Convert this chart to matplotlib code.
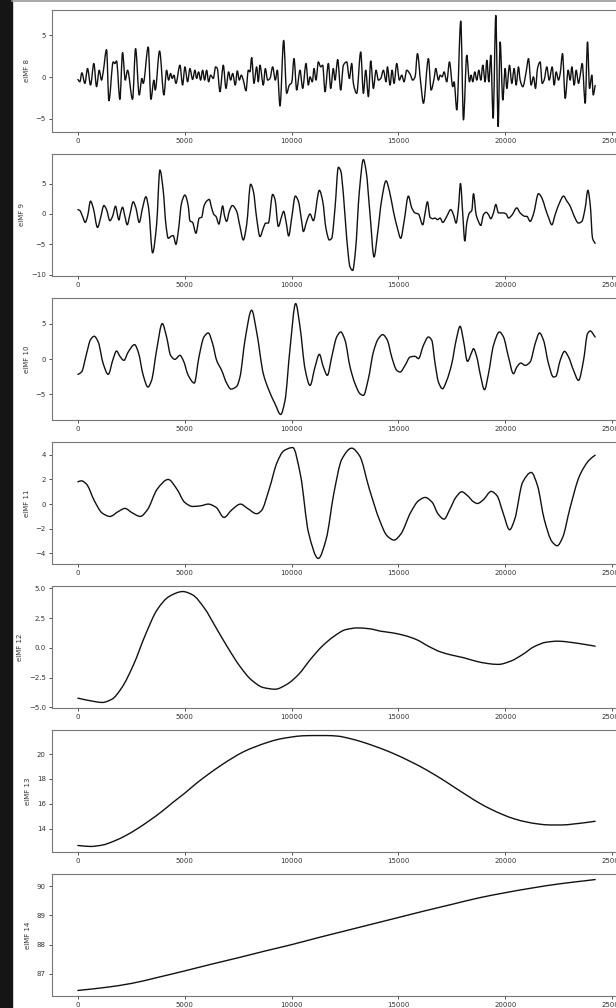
import numpy as np
import matplotlib
matplotlib.use("Agg")
import matplotlib.pyplot as plt
from matplotlib.patches import Rectangle, PathPatch
from matplotlib.lines import Line2D
from matplotlib.path import Path

# values, sample index -> value
imf8_x = [0, 94, 187, 328, 453, 593, 749, 874, 999, 1108, 1186, 1342, 1451, 1654, 1732, 1810, 1966,
          2091, 2216, 2325, 2559, 2700, 2871, 2996, 3059, 3293, 3418, 3558, 3620, 3823, 4026, 4151,
          4245, 4338, 4416, 4494, 4588, 4775, 4900, 5009, 5134, 5243, 5368, 5477, 5555, 5649, 5743,
          5836, 5930, 6024, 6117, 6211, 6336, 6445, 6523, 6648, 6804, 6929, 7053, 7147, 7241, 7366,
          7459, 7553, 7646, 7740, 7865, 7974, 8052, 8130, 8239, 8364, 8442, 8520, 8676, 8770, 8879,
          8988, 9113, 9238, 9332, 9457, 9628, 9769, 9894, 10003, 10112, 10237, 10393, 10518, 10674,
          10783, 10861, 10970, 11048, 11142, 11251, 11360, 11454, 11563, 11719, 11829, 11953, 12031,
          12156, 12297, 12422, 12578, 12702, 12812, 12890, 13046, 13233, 13358, 13467, 13592, 13701,
          13826, 13951, 14060, 14169, 14294, 14419, 14481, 14606, 14700, 14793, 14918, 15043, 15152,
          15261, 15386, 15542, 15667, 15777, 15886, 16042, 16167, 16401, 16526, 16666, 16744, 16869,
          16947, 17041, 17134, 17259, 17384, 17540, 17602, 17727, 17914, 18039, 18195, 18320, 18398,
          18476, 18570, 18663, 18757, 18851, 18945, 19054, 19132, 19225, 19319, 19428, 19553, 19662,
          19756, 19881, 19990, 20068, 20193, 20302, 20411, 20505, 20614, 20692, 20817, 20973, 21082,
          21207, 21316, 21410, 21503, 21628, 21722, 21815, 21940, 22050, 22190, 22284, 22378, 22487,
          22565, 22674, 22799, 22939, 23033, 23111, 23220, 23314, 23423, 23501, 23595, 23735, 23844,
          23938, 24047, 24110, 24200]
imf8_y = [-0.28, -0.56, 0.52, -0.75, 1.03, -0.95, 1.63, -1.15, 0.83, -0.36, 0.63, 3.29, -2.82, 1.83,
          1.63, 1.94, -2.66, 2.94, -0.36, 0.83, -2.66, 3.41, -2.14, -0.16, -0.75, 3.61, -2.66, -0.36,
          -1.55, 3.13, -2.14, 0.83, -0.36, 0.44, -0.16, 0.24, -0.75, 1.43, -0.95, 1.23, -0.56, 1.03,
          -0.28, 0.83, -0.16, 0.63, -0.36, 0.83, -0.36, 0.83, -0.56, 0.24, -0.16, 1.23, 1.03, -1.75,
          1.43, -1.35, 0.63, -0.36, 0.44, -0.95, 0.75, -0.36, 0.24, -0.36, -1.63, 0.83, 0.63, 2.34,
          -0.75, 1.23, -0.56, 1.43, -0.95, 1.03, -0.36, -0.16, 1.23, -0.36, 0.83, -3.45, 4.40, -1.94,
          -0.95, -0.67, 2.22, -1.55, 0.83, -1.35, 1.63, -0.95, 0.04, -0.56, 1.03, -0.36, 1.83, 1.23,
          1.43, -1.75, 1.63, -1.35, 1.03, -0.36, 2.10, -1.55, 1.43, 1.83, -0.16, 1.63, -0.75, -1.94,
          3.02, -1.94, 0.83, -2.34, 1.94, -1.35, 0.83, -0.36, -0.16, 0.83, -0.56, 1.23, -0.95, 0.83,
          -0.75, 1.63, -0.36, 0.24, -0.56, 0.83, 0.36, -0.36, 0.04, 2.82, -0.75, -3.13, 2.22, -1.55,
          -0.16, 1.03, -0.36, 0.24, 0.04, 0.63, -0.56, 1.83, -1.15, -0.56, -3.93, 6.71, -5.12, 2.62,
          -0.56, 0.24, -0.56, 0.63, -0.36, 0.83, -0.36, 1.43, -0.56, 2.02, -0.56, 2.62, -4.92, 7.38,
          -5.91, 4.21, -2.74, 1.03, -1.35, 1.43, -0.75, 1.03, -0.95, 1.23, -0.36, -1.15, 0.63, 2.22,
          -0.95, 0.04, -1.35, 1.03, 1.83, -0.75, -0.36, 1.23, -0.36, 1.23, -0.95, 0.63, -0.36, 0.44,
          2.82, -2.54, 0.83, -0.36, 1.23, -0.95, 0.83, -0.75, 0.24, 1.63, -3.13, 4.21, -1.35, 0.24,
          -2.14, -1.0]

imf9_x = [0, 94, 218, 343, 453, 593, 718, 921, 1061, 1217, 1342, 1498, 1623, 1763, 1857, 1919, 1997,
          2091, 2200, 2310, 2434, 2590, 2715, 2871, 3027, 3183, 3308, 3496, 3683, 3839, 3995, 4120,
          4229, 4385, 4463, 4588, 4697, 4853, 5009, 5165, 5243, 5368, 5524, 5680, 5789, 5899, 6023,
          6148, 6258, 6367, 6460, 6601, 6679, 6773, 6866, 6960, 7085, 7225, 7428, 7584, 7740, 7896,
          8083, 8208, 8364, 8520, 8676, 8786, 8910, 9113, 9223, 9379, 9535, 9628, 9738, 9862, 10003,
          10174, 10315, 10471, 10549, 10705, 10861, 11017, 11298, 11454, 11610, 11766, 11875, 12031,
          12187, 12297, 12422, 12578, 12734, 12858, 12983, 13171, 13358, 13483, 13670, 13857, 14013,
          14216, 14419, 14575, 14762, 14950, 15106, 15262, 15464, 15620, 15776, 15932, 16135, 16245,
          16354, 16479, 16604, 16713, 16822, 16947, 17072, 17259, 17446, 17571, 17696, 17805, 17899,
          18008, 18102, 18195, 18320, 18430, 18508, 18633, 18742, 18851, 18976, 19101, 19210, 19319,
          19444, 19553, 19678, 19912, 20037, 20146, 20302, 20536, 20692, 20926, 21004, 21160, 21316,
          21550, 21706, 21862, 22018, 22174, 22330, 22533, 22721, 22877, 23033, 23189, 23423, 23579,
          23735, 23860, 23969, 24079, 24200]
imf9_y = [0.72, 0.56, -0.39, -1.39, -0.39, 2.11, 1.0, -2.22, -0.67, 1.39, 0.72, -1.11, -0.39, 1.28,
          -0.22, -1.0, 0.17, 1.11, -0.39, -1.78, -0.11, 2.0, 1.0, -1.39, 1.0, 2.83, 1.0, -6.39, -1.78,
          7.22, 3.78, -1.78, -4.0, -3.61, -3.56, -5.0, -2.89, 1.83, 3.11, 1.28, -1.11, -1.39, -3.17,
          -0.67, -0.56, 1.28, 2.11, 2.39, 1.0, -0.11, -0.39, -1.67, -0.39, 1.33, -0.39, -1.22, 0.44,
          1.39, 0.44, -2.06, -4.28, -1.78, 4.89, 3.78, -0.67, -3.72, -2.33, -1.5, -1.5, 3.22, 2.39,
          -2.06, -0.39, 0.44, -1.22, -3.61, -0.67, 2.94, 2.11, -1.22, -2.89, -1.22, 0.0, -1.11, 3.89,
          2.11, -2.44, -4.28, -4.0, 1.0, 7.67, 7.11, 3.22, -4.0, -8.72, -9.28, -6.22, 3.78, 8.94, 7.11,
          -0.11, -7.06, -3.44, 2.39, 5.44, 3.78, 0.44, -2.33, -4.0, -1.22, 2.94, 1.0, 0.17, 0.0, -1.78,
          0.17, 2.0, -0.56, -0.78, -0.67, -0.94, -0.67, -1.39, -0.39, 0.72, -0.11, -1.5, 1.0, 5.0,
          -0.11, -4.44, -1.5, 0.17, 0.56, 3.33, -0.11, -1.22, -1.89, -0.11, 0.28, -0.11, -0.78, 0.17,
          1.56, 0.17, 0.17, 0.0, -0.67, -0.22, 1.0, 0.17, -0.39, -0.39, -1.22, 0.0, 3.33, 2.67, 1.0,
          -0.56, -1.78, -0.11, 1.83, 2.94, 2.11, 1.28, -0.11, -1.5, -1.22, 1.0, 3.89, 1.56, -4.0, -4.83]

imf10_x = [0, 172, 406, 593, 765, 952, 1186, 1420, 1654, 1810, 1966, 2153, 2356, 2653, 2825, 3059,
           3277, 3449, 3683, 3948, 4151, 4338, 4541, 4775, 4931, 5165, 5446, 5665, 5899, 6102, 6304,
           6492, 6726, 6960, 7163, 7428, 7584, 7818, 8130, 8364, 8676, 8910, 9223, 9488, 9691, 9925,
           10190, 10393, 10627, 10861, 11095, 11298, 11485, 11672, 11875, 12110, 12297, 12500, 12734,
           12968, 13202, 13358, 13592, 13826, 14060, 14263, 14481, 14684, 14918, 15074, 15308, 15542,
           15776, 15932, 16167, 16401, 16557, 16713, 16869, 17056, 17259, 17493, 17696, 17883, 18039,
           18227, 18430, 18508, 18664, 18820, 19023, 19210, 19444, 19725, 19912, 20146, 20380, 20536,
           20724, 20926, 21160, 21395, 21598, 21785, 22018, 22252, 22362, 22565, 22768, 22955, 23189,
           23423, 23657, 23844, 23969, 24200]
imf10_y = [-2.17, -1.84, 0.75, 2.74, 3.21, 2.41, -0.66, -2.17, 0.05, 1.13, 0.38, -0.19, 0.99, 2.03,
           0.99, -2.31, -3.96, -3.02, 1.23, 5.0, 3.11, 0.52, -0.05, 0.52, -0.19, -2.31, -3.4, 0.28,
           3.11, 3.68, 2.17, -0.19, -1.6, -3.4, -4.25, -3.87, -2.55, 2.64, 6.89, 3.82, -2.08, -4.2,
           -6.32, -7.83, -5.85, 1.46, 7.83, 4.53, -1.37, -3.73, -1.13, 0.66, -1.13, -2.31, 0.28, 3.11,
           3.82, 2.64, -1.13, -3.49, -4.91, -5.14, -2.78, 0.99, 2.88, 3.44, 2.64, 0.28, -1.6, -1.84,
           -0.9, 0.28, 0.38, 0.05, 1.93, 3.11, 2.64, -0.66, -3.25, -4.2, -3.02, -0.66, 2.64, 4.62, 2.64,
           -0.33, 0.99, 1.46, 0.28, -2.08, -4.34, -2.08, 1.93, 3.82, 3.11, 0.28, -2.08, -1.13, -0.57,
           -0.9, -0.42, 2.17, 3.68, 2.64, -0.66, -2.55, -2.45, -0.19, 1.08, 0.28, -1.6, -3.02, -0.19,
           3.58, 3.96, 3.11]

imf11_x = [0, 165, 404, 772, 1140, 1507, 1875, 2206, 2518, 2922, 3253, 3713, 4227, 4632, 4999, 5367,
           5735, 6102, 6470, 6837, 7205, 7609, 7940, 8363, 8583, 8951, 9319, 9631, 10054, 10421, 10789,
           11249, 11616, 11984, 12351, 12811, 13178, 13638, 14097, 14465, 14796, 15108, 15568, 15935,
           16248, 16579, 16854, 17130, 17406, 17681, 17957, 18233, 18509, 18692, 18968, 19336, 19611,
           19887, 20200, 20439, 20806, 21211, 21505, 21817, 22185, 22424, 22681, 23012, 23472, 23931,
           24200]
imf11_y = [1.81, 1.89, 1.62, 0.27, -0.73, -1.0, -0.62, -0.35, -0.68, -1.0, -0.46, 1.22, 2.0, 1.22,
           0.14, -0.19, -0.14, 0.0, -0.27, -1.08, -0.46, 0.0, -0.35, -0.78, -0.54, 1.22, 3.38, 4.32,
           4.59, 2.3, -2.3, -4.41, -2.84, 0.95, 3.65, 4.54, 3.92, 1.22, -1.22, -2.57, -2.92, -2.43,
           -0.68, 0.27, 0.54, 0.14, -0.81, -1.22, -0.41, 0.54, 1.0, 0.68, 0.19, 0.05, 0.35, 1.03, 0.68,
           -0.68, -2.08, -1.22, 1.76, 2.57, 1.49, -1.22, -3.05, -3.38, -2.7, -0.41, 2.3, 3.59, 3.97]

imf12_x = [0, 588, 1140, 1599, 2059, 2610, 3161, 3713, 4264, 4907, 5367, 5918, 6470, 7021, 7573, 8124,
           8675, 9227, 9778, 10330, 10881, 11432, 11984, 12535, 13087, 13638, 14189, 14741, 15292,
           15843, 16395, 16946, 17498, 18049, 18600, 19152, 19667, 20255, 20806, 21358, 21909, 22460,
           23012, 23563, 24200]
imf12_y = [-4.22, -4.44, -4.58, -4.3, -3.33, -1.39, 1.1, 3.2, 4.3, 4.72, 4.44, 3.33, 1.67, 0.0, -1.53,
           -2.7, -3.33, -3.47, -3.06, -2.22, -0.97, 0.14, 0.97, 1.53, 1.67, 1.6, 1.39, 1.25, 1.03, 0.69,
           0.14, -0.33, -0.61, -0.83, -1.11, -1.31, -1.39, -1.11, -0.56, 0.11, 0.47, 0.56, 0.47, 0.33,
           0.14]

imf13_x = [0, 588, 1140, 1691, 2243, 2794, 3345, 3897, 4448, 5000, 5551, 6102, 6654, 7205, 7757, 8308,
           8859, 9411, 9962, 10514, 11065, 11616, 12168, 12719, 13270, 13822, 14373, 14925, 15476,
           16027, 16579, 17130, 17681, 18233, 18784, 19336, 19887, 20439, 20990, 21541, 22093, 22644,
           23196, 23747, 24200]
imf13_y = [12.64, 12.56, 12.67, 12.99, 13.44, 14.0, 14.64, 15.33, 16.11, 16.85, 17.65, 18.37, 19.04,
           19.65, 20.19, 20.59, 20.93, 21.2, 21.36, 21.47, 21.49, 21.49, 21.44, 21.25, 20.99, 20.67,
           20.32, 19.92, 19.47, 18.99, 18.45, 17.87, 17.25, 16.64, 16.05, 15.55, 15.12, 14.77, 14.53,
           14.37, 14.29, 14.29, 14.37, 14.48, 14.59]

imf14_x = [0, 1250, 2500, 3750, 5000, 6250, 7500, 8750, 10000, 11250, 12500, 13750, 15000, 16250,
           17500, 18750, 20000, 21250, 22500, 23750, 24200]
imf14_y = [86.43, 86.53, 86.67, 86.88, 87.1, 87.33, 87.55, 87.78, 88.0, 88.24, 88.47, 88.7, 88.93,
           89.16, 89.38, 89.6, 89.78, 89.94, 90.08, 90.19, 90.23]

labels = ["eIMF 8", "eIMF 9", "eIMF 10", "eIMF 11", "eIMF 12", "eIMF 13", "eIMF 14"]
yticks = [[-5, 0, 5], [-10, -5, 0, 5], [-5, 0, 5], [-4, -2, 0, 2, 4],
          [-5.0, -2.5, 0.0, 2.5, 5.0], [14, 16, 18, 20], [87, 88, 89, 90]]
xticks = [0, 5000, 10000, 15000, 20000, 25000]

series = [(imf8_x, imf8_y), (imf9_x, imf9_y), (imf10_x, imf10_y), (imf11_x, imf11_y),
          (imf12_x, imf12_y), (imf13_x, imf13_y), (imf14_x, imf14_y)]


def smooth_path(xs, ys):
    # bezier curve through the read points (monotone hermite tangents, no overshoot)
    x = np.asarray(xs, float)
    y = np.asarray(ys, float)
    h = np.diff(x)
    d = np.diff(y) / h
    m = np.zeros_like(y)
    m[0], m[-1] = d[0], d[-1]
    for k in range(1, len(y) - 1):
        if d[k - 1] * d[k] > 0:
            w1 = 2 * h[k] + h[k - 1]
            w2 = h[k] + 2 * h[k - 1]
            m[k] = (w1 + w2) / (w1 / d[k - 1] + w2 / d[k])
    verts = [(x[0], y[0])]
    codes = [Path.MOVETO]
    for k in range(len(h)):
        verts += [(x[k] + h[k] / 3, y[k] + m[k] * h[k] / 3),
                  (x[k + 1] - h[k] / 3, y[k + 1] - m[k + 1] * h[k] / 3),
                  (x[k + 1], y[k + 1])]
        codes += [Path.CURVE4] * 3
    return Path(verts, codes)


W, H = 616, 1008
fig = plt.figure(figsize=(W / 100, H / 100), dpi=100)

# dark strip on the left and thin edge on top of the screenshot
fig.patches.append(Rectangle((0, 0), 12 / W, 1, transform=fig.transFigure, color="#151515", zorder=0))
fig.add_artist(Line2D([12 / W, 1], [1 - 1 / H, 1 - 1 / H], transform=fig.transFigure,
                      color="#999999", lw=1.2))

for i, ((xs, ys), lab, yt) in enumerate(zip(series, labels, yticks)):
    top = 10 + 144 * i
    ax = fig.add_axes([52 / W, 1 - (top + 122) / H, (621 - 52) / W, 122 / H])
    ax.add_patch(PathPatch(smooth_path(xs, ys), fill=False, ec="#111111", lw=1.0,
                           joinstyle="round", capstyle="round"))
    xpad = 0.05 * (max(xs) - min(xs))
    ypad = 0.05 * (max(ys) - min(ys))
    ax.set_xlim(min(xs) - xpad, max(xs) + xpad)
    ax.set_ylim(min(ys) - ypad, max(ys) + ypad)
    ax.set_ylabel(lab, fontsize=5, color="#333333")
    ax.set_yticks(yt)
    if i == 4:
        ax.set_yticklabels([f"{v:.1f}".replace("-", "\u2212") for v in yt])
    ax.set_xticks(xticks)
    ax.tick_params(labelsize=5, length=2.5, width=0.6, colors="#333333", pad=2)
    for sp in ax.spines.values():
        sp.set_color("#777777")
        sp.set_linewidth(0.8)

fig.savefig("out.png", dpi=100)
